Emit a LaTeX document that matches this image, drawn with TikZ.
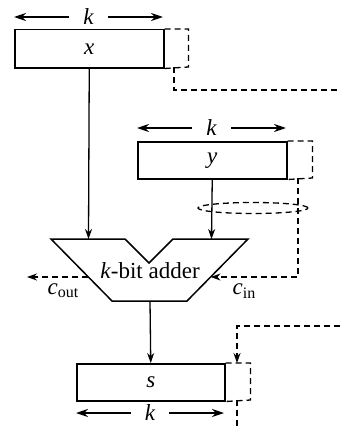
\documentclass[tikz,border=0pt]{standalone}
\usepackage{fontspec}
\setmainfont{Liberation Serif}
\usetikzlibrary{arrows.meta,shapes.geometric}
\begin{document}
\begin{tikzpicture}[x=1pt,y=-1pt,
  reg/.style={draw, line width=1.5pt, minimum width=149pt, minimum height=38pt, anchor=north west, inner sep=0pt, font=\fontsize{23}{26}\selectfont\itshape},
  wire/.style={line width=1.3pt, -{Stealth[length=10pt,width=7pt]}},
  dline/.style={line width=1.3pt, dash pattern=on 6pt off 4pt},
  dwire/.style={dline, -{Stealth[length=10pt,width=7pt]}},
  karrow/.style={line width=1.6pt, {Stealth[length=12pt,width=8pt]}-{Stealth[length=12pt,width=8pt]}},
  klab/.style={fill=white, inner xsep=14pt, inner ysep=1pt, font=\fontsize{23}{26}\selectfont\itshape},
  lab/.style={font=\fontsize{23}{26}\selectfont}
]
\useasboundingbox (0,0) rectangle (340,428);

% registers
\node[reg] (X) at (14,29) {x};
\node[reg, minimum height=37pt] (Y) at (137,141) {y};
\node[reg, minimum width=148pt, minimum height=37pt] (S) at (76,363) {s};

% k width arrows
\coordinate (kx1) at (14,17); \coordinate (kx2) at (163,17);
\draw[karrow] (kx1) -- node[klab] (kx) {k} (kx2);
\coordinate (ky1) at (137,128); \coordinate (ky2) at (286,128);
\draw[karrow] (ky1) -- node[klab] (ky) {k} (ky2);
\coordinate (ks1) at (76,413); \coordinate (ks2) at (224,413);
\draw[karrow] (ks1) -- node[klab] (ks) {k} (ks2);

% adder
\coordinate (aTL) at (51,239);
\coordinate (aV1) at (125,239);
\coordinate (aV) at (149,263);
\coordinate (aV2) at (173,239);
\coordinate (aTR) at (248,239);
\coordinate (aBR) at (187,301);
\coordinate (aBL) at (112,301);
\draw[line width=1.5pt, line join=miter] (aTL) -- (aV1) -- (aV) -- (aV2) -- (aTR) -- (aBR) -- (aBL) -- cycle;
\node[lab] (add) at (150,271) {\textit{k}-bit adder};

% data wires
\coordinate (inX) at (88.5,239);
\coordinate (inY) at (211.5,239);
\coordinate (outS) at (150,301);
\draw[wire] (X.south) -- (inX);
\draw[wire] (Y.south) -- (inY);
\draw[wire] (outS) -- (S.north);

% carry out
\coordinate (coL) at (88.4,277);
\coordinate (coE) at (27,277);
\draw[dwire] (coL) -- (coE);
\node[lab] (cout) at (63,291) {\textit{c}\raisebox{-0.3ex}{\fontsize{16}{18}\selectfont out}};

% carry in
\coordinate (ciR) at (210.6,277);
\coordinate (ciT) at (298,178);
\coordinate (ciC) at (298,277);
\draw[dwire] (ciT) -- (ciC) -- (ciR);
\node[lab] (cin) at (244,291) {\textit{c}\raisebox{-0.3ex}{\fontsize{16}{18}\selectfont in}};

% dashed extension boxes
\draw[dline] (X.north east) -- ++(24,0) -- ++(0,38) -- (X.south east);
\draw[dline] (Y.north east) -- ++(25,0) -- ++(0,37) -- (Y.south east);
\draw[dline] (S.north east) -- ++(25,0) -- ++(0,37) -- (S.south east);

% dashed connections
\coordinate (xoT) at (174,67);
\coordinate (xoE) at (340,90);
\draw[dline] (xoT) |- (xoE);
\node[draw, dline, ellipse, minimum width=110pt, minimum height=11pt, inner sep=0pt] (ell) at (253,208) {};
\coordinate (siE) at (340,326);
\coordinate (siC) at (237,326);
\coordinate (siT) at (237,363);
\draw[dwire] (siE) -- (siC) -- (siT);
\coordinate (soT) at (237,400);
\coordinate (soB) at (237,428);
\draw[dline] (soT) -- (soB);
\end{tikzpicture}
\end{document}
